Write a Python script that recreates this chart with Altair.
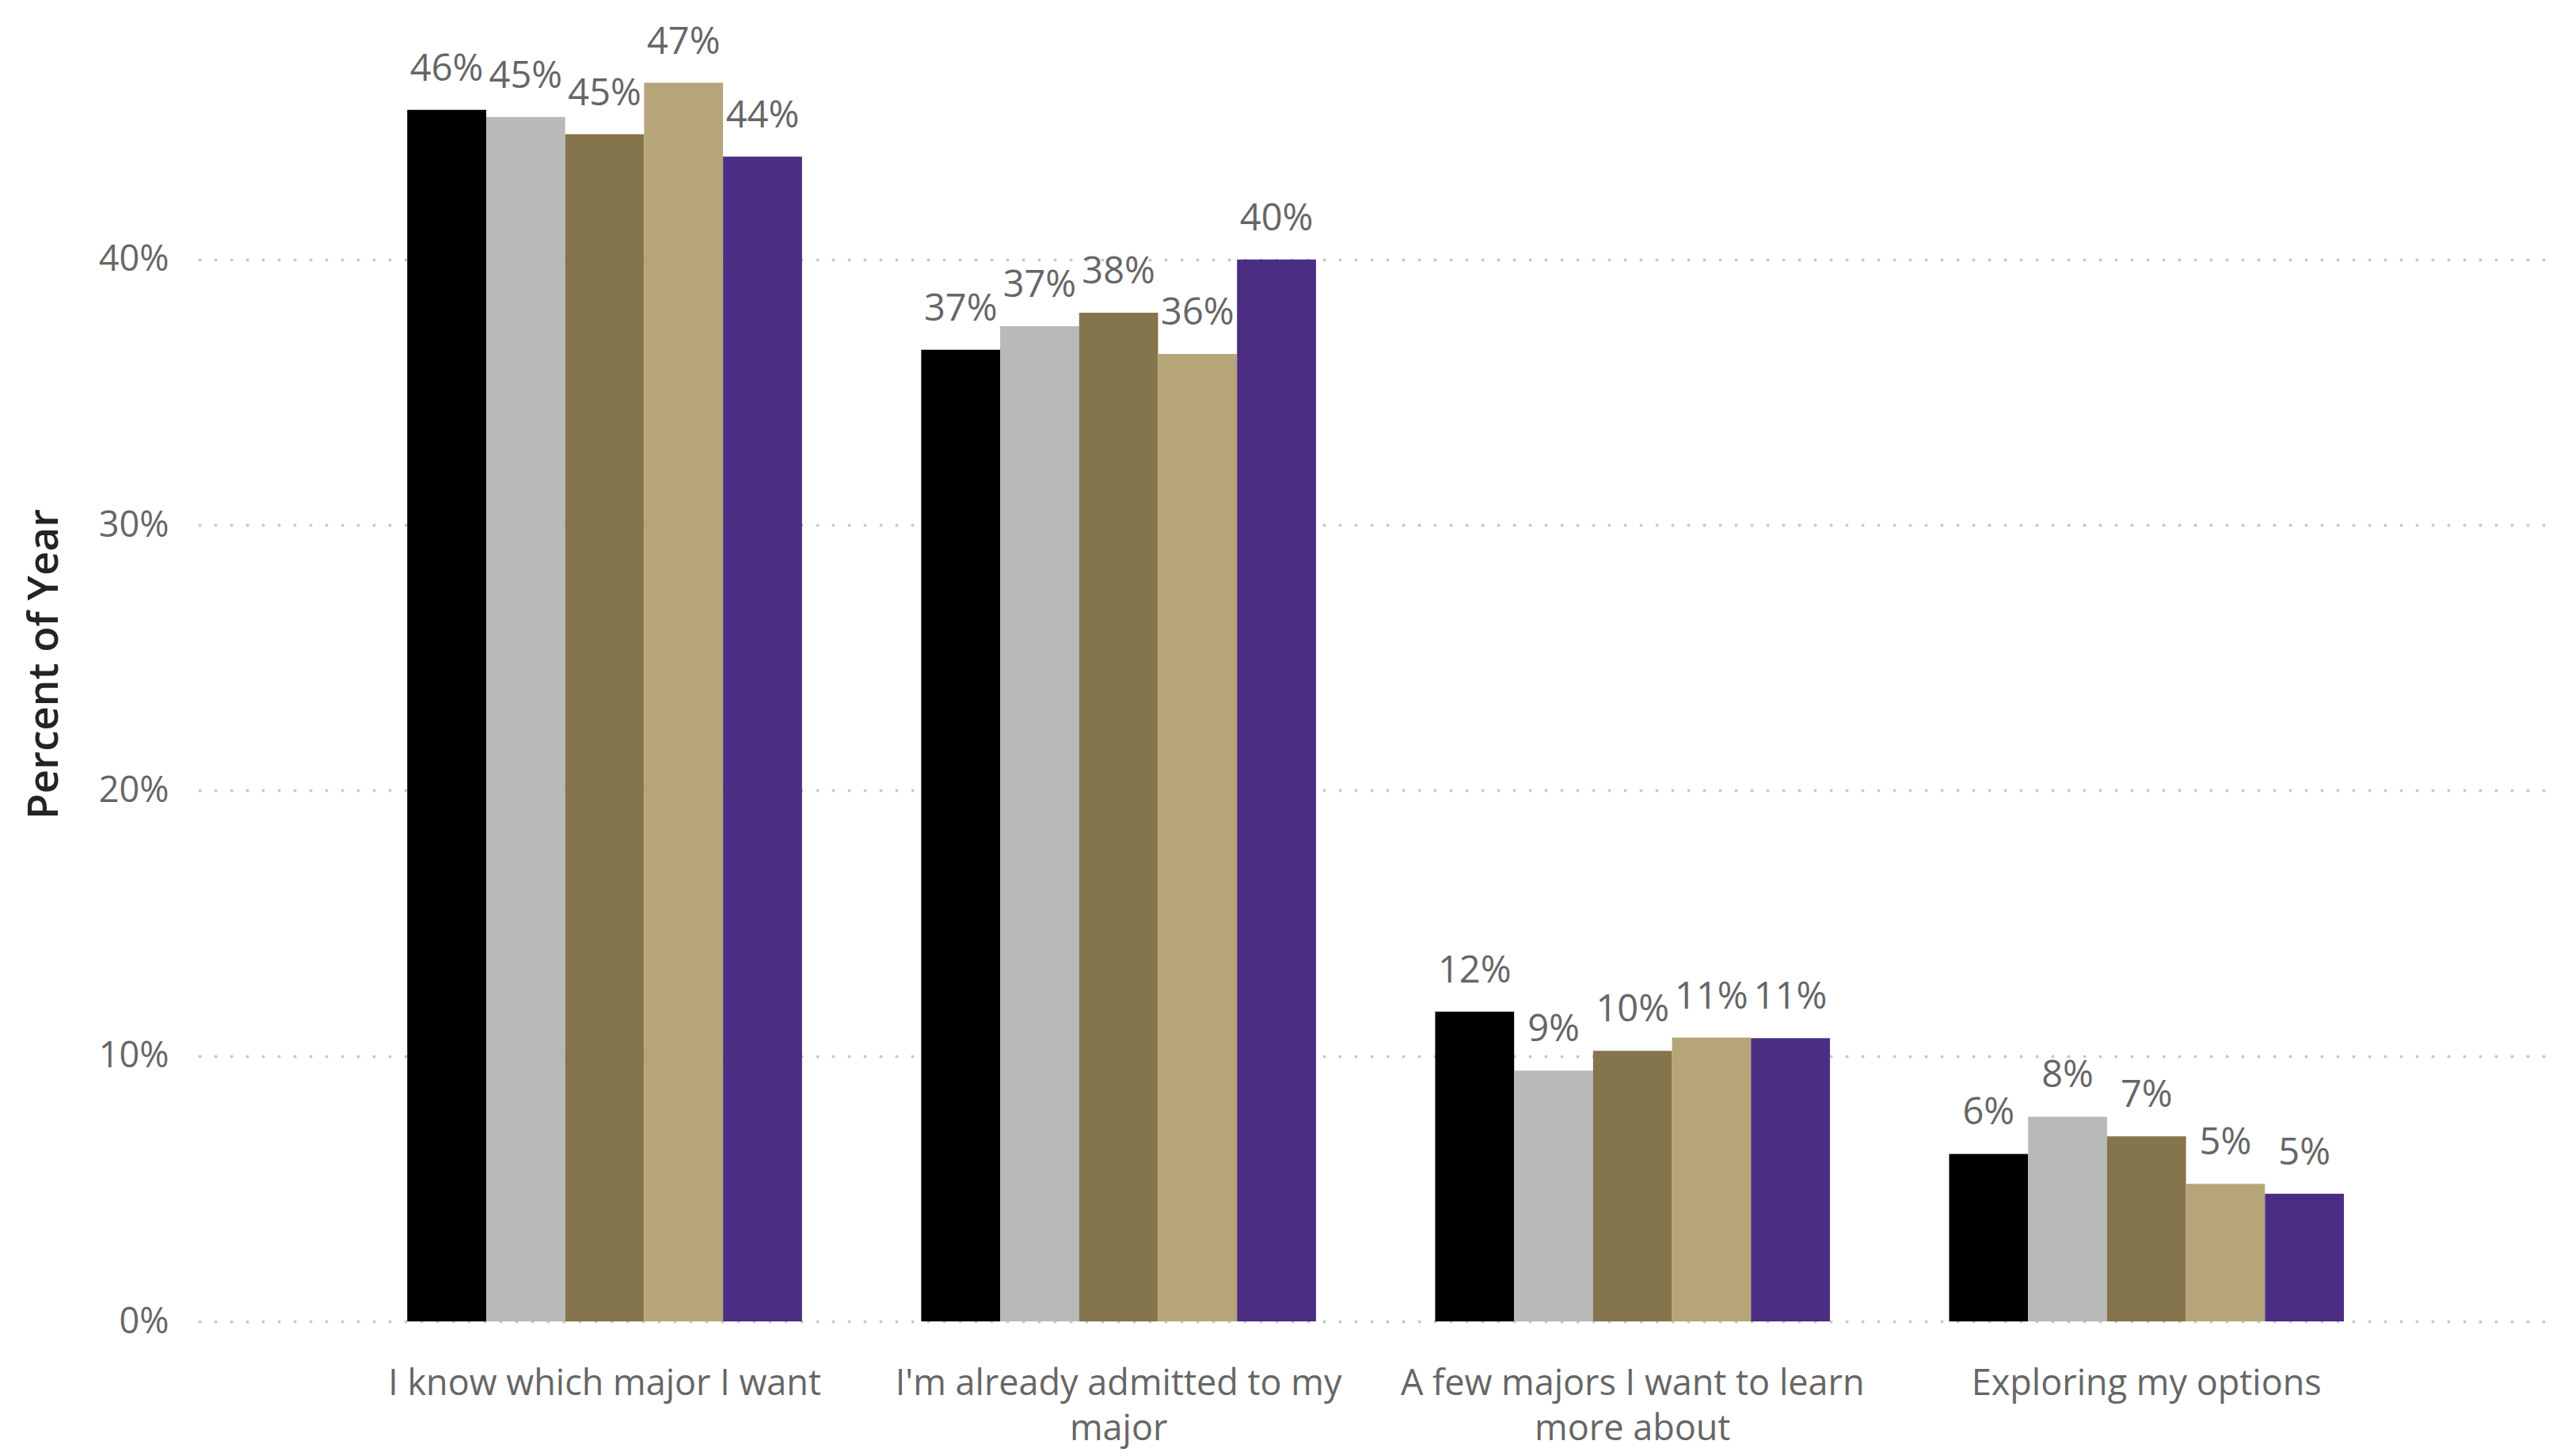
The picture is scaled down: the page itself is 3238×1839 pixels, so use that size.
import altair as alt
import pandas as pd
import json

categories = [
    "I know which major I want",
    "I'm already admitted to my major",
    "A few majors I want to learn more about",
    "Exploring my options",
]
label_lines = [
    ["I know which major I want"],
    ["I'm already admitted to my", "major"],
    ["A few majors I want to learn", "more about"],
    ["Exploring my options"],
]
series = ["2019", "2020", "2021", "2022", "2023"]
colors = ["#000000", "#B9B9B9", "#85754D", "#B7A57A", "#4B2E83"]

values = {
    "2019": [0.4564, 0.3660, 0.1167, 0.0631],
    "2020": [0.4537, 0.3749, 0.0945, 0.0771],
    "2021": [0.4472, 0.3800, 0.1019, 0.0697],
    "2022": [0.4666, 0.3645, 0.1069, 0.0518],
    "2023": [0.4388, 0.4000, 0.1067, 0.0481],
}

rows = []
for s in series:
    for c, v in zip(categories, values[s]):
        rows.append({"category": c, "series": s, "value": v})
df = pd.DataFrame(rows)

expr = json.dumps([categories[0]])
for c, lines in reversed(list(zip(categories, label_lines))):
    expr = f"datum.value == {json.dumps(c)} ? {json.dumps(lines)} : ({expr})"

FONT = "Open Sans"
W = 2978
H = 1661

base = alt.Chart(df).transform_calculate(
    label="format(datum.value, '.0%')"
).encode(
    x=alt.X(
        "category:N",
        sort=categories,
        scale=alt.Scale(paddingInner=0.2319, paddingOuter=0.41, align=0.4928, round=False),
        axis=alt.Axis(
            title=None,
            labelAngle=0,
            labelFontSize=45,
            labelFont=FONT,
            labelColor="#666666",
            labelPadding=56,
            labelLineHeight=57,
            labelLimit=2000,
            labelOverlap=False,
            labelExpr=expr,
            ticks=False,
            domain=False,
            grid=False,
        ),
    ),
    xOffset=alt.XOffset(
        "series:N",
        sort=series,
        scale=alt.Scale(paddingInner=0, paddingOuter=0),
    ),
    y=alt.Y(
        "value:Q",
        scale=alt.Scale(domain=[0, 0.4954], nice=False, zero=True),
        axis=alt.Axis(
            title="Percent of Year",
            titleFont=FONT,
            titleFontSize=53,
            titleFontWeight=600,
            titleColor="#252423",
            titleX=-180,
            titleY=H / 2,
            titleAngle=270,
            titleAlign="center",
            titleBaseline="alphabetic",
            values=[0, 0.1, 0.2, 0.3, 0.4],
            format=".0%",
            labelFont=FONT,
            labelFontSize=45,
            labelColor="#666666",
            labelPadding=39,
            ticks=False,
            domain=False,
            grid=True,
            gridColor="#C8C8C8",
            gridWidth=4,
            gridDash=[0.1, 19.9],
            gridCap="round",
        ),
    ),
)

bars = base.mark_bar().encode(
    color=alt.Color("series:N", sort=series, scale=alt.Scale(domain=series, range=colors), legend=None)
)

text = base.mark_text(
    baseline="alphabetic", align="center", dy=-37, fontSize=47, font=FONT, color="#666666"
).encode(text="label:N")

chart = alt.layer(bars, text).properties(
    width=W,
    height=H,
    autosize=alt.AutoSizeParams(type="none"),
    padding={"left": 244, "top": 0, "right": 0, "bottom": 162},
).configure_view(stroke=None)

chart.save("out.html", embed_options={"renderer": "svg", "actions": False})
